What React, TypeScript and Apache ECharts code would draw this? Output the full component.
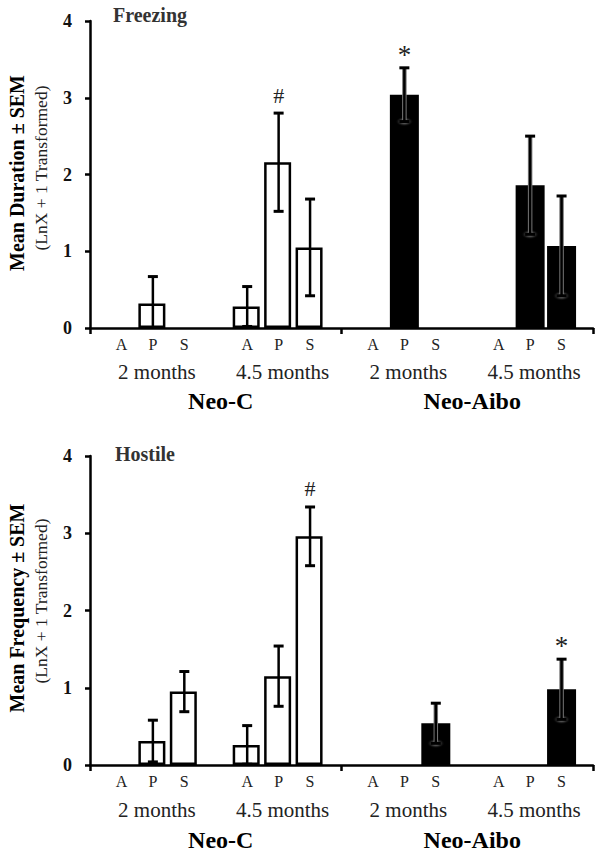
import React, { useEffect, useRef } from "react";
import * as echarts from "echarts";

// ---- data ----
const slotLabels = ["", "A", "P", "S", "", "A", "P", "S", "", "A", "P", "S", "", "A", "P", "S", ""];
const barX = [1, 2, 3, 5, 6, 7, 9, 10, 11, 13, 14, 15];
const groupOf = ["C", "C", "C", "C", "C", "C", "Aibo", "Aibo", "Aibo", "Aibo", "Aibo", "Aibo"];
const ageTicks = [2, 6, 10, 14];
const ageNames = ["2 months", "4.5 months", "2 months", "4.5 months"];
const groupTicks = [4, 12];
const groupNames = ["Neo-C", "Neo-Aibo"];

const freezingMean = [0, 0.32, 0, 0.28, 2.16, 1.05, 0, 3.04, 0, 0, 1.86, 1.07];
const freezingSEM = [0, 0.35, 0, 0.26, 0.64, 0.63, 0, 0.35, 0, 0, 0.64, 0.65];
const freezingMarks = ["", "", "", "", "#", "", "", "*", "", "", "", ""];

const hostileMean = [0, 0.31, 0.95, 0.26, 1.15, 2.96, 0, 0, 0.54, 0, 0, 0.98];
const hostileSEM = [0, 0.27, 0.26, 0.25, 0.39, 0.38, 0, 0, 0.26, 0, 0, 0.39];
const hostileMarks = ["", "", "", "", "", "#", "", "", "", "", "", "*"];

const yTicks = [0, 1, 2, 3, 4];

const SERIF = "Liberation Serif";

function buildPanel(
  idx: number,
  means: number[],
  sems: number[],
  marks: string[]
) {
  const xBase = idx * 4;
  const xAxes: any[] = [
    {
      gridIndex: idx,
      type: "value",
      min: 0,
      max: 16,
      interval: 1,
      position: "bottom",
      axisLine: { show: true, onZero: false, lineStyle: { color: "#000", width: 2.5 } },
      axisTick: { show: false },
      splitLine: { show: false },
      axisLabel: {
        margin: 8,
        fontFamily: SERIF,
        fontSize: 16,
        color: "#222",
        formatter: (v: number) => slotLabels[Math.round(v)] || "",
      },
    },
    {
      gridIndex: idx,
      type: "value",
      min: 0,
      max: 16,
      interval: 8,
      position: "bottom",
      axisLine: { show: false },
      axisTick: { show: true, length: 6, lineStyle: { color: "#000", width: 2.5 } },
      splitLine: { show: false },
      axisLabel: { show: false },
    },
    {
      gridIndex: idx,
      type: "value",
      min: 0,
      max: 16,
      interval: 2,
      position: "bottom",
      axisLine: { show: false },
      axisTick: { show: false },
      splitLine: { show: false },
      axisLabel: {
        margin: idx === 0 ? 33 : 34,
        fontFamily: SERIF,
        fontSize: 21,
        color: "#222",
        padding: [0, 0, 0, 8],
        formatter: (v: number) => {
          const i = ageTicks.indexOf(Math.round(v));
          return i >= 0 ? ageNames[i] : "";
        },
      },
    },
    {
      gridIndex: idx,
      type: "value",
      min: 0,
      max: 16,
      interval: 4,
      position: "bottom",
      axisLine: { show: false },
      axisTick: { show: false },
      splitLine: { show: false },
      axisLabel: {
        margin: idx === 0 ? 61 : 63,
        fontFamily: SERIF,
        fontSize: 24,
        fontWeight: "bold",
        color: "#000",
        padding: [0, 0, 0, 10],
        formatter: (v: number) => {
          const i = groupTicks.indexOf(Math.round(v));
          return i >= 0 ? groupNames[i] : "";
        },
      },
    },
  ];

  const yAxis = {
    gridIndex: idx,
    type: "value",
    min: 0,
    max: 4,
    interval: 1,
    axisLine: { show: true, lineStyle: { color: "#000", width: 2.5 } },
    axisTick: { show: true, length: 5, lineStyle: { color: "#000", width: 2.5 } },
    splitLine: { show: false },
    axisLabel: {
      margin: 18,
      fontFamily: SERIF,
      fontSize: 18,
      fontWeight: "bold",
      color: "#111",
      formatter: (v: number) => (yTicks.indexOf(v) >= 0 ? String(v) : ""),
    },
  };

  const whiteData: any[] = [];
  const blackData: any[] = [];
  const errData: any[] = [];
  means.forEach((m, i) => {
    if (m > 0) {
      (groupOf[i] === "C" ? whiteData : blackData).push([barX[i], m]);
    }
    if (sems[i] > 0) {
      errData.push({
        value: [barX[i], Math.max(0, m - sems[i]), m + sems[i], i],
      });
    }
  });

  const series: any[] = [
    {
      type: "bar",
      xAxisIndex: xBase,
      yAxisIndex: idx,
      barWidth: 27,
      barGap: "-100%",
      data: whiteData,
      itemStyle: { color: "#fff", borderColor: "#000", borderWidth: 2.5 },
      silent: true,
    },
    {
      type: "bar",
      xAxisIndex: xBase,
      yAxisIndex: idx,
      barWidth: 29,
      barGap: "-100%",
      data: blackData,
      itemStyle: { color: "#000" },
      silent: true,
    },
    {
      type: "custom",
      xAxisIndex: xBase,
      yAxisIndex: idx,
      z: 5,
      silent: true,
      data: errData,
      renderItem: (params: any, api: any) => {
        const x = api.value(0);
        const lo = api.value(1);
        const hi = api.value(2);
        const i = api.value(3);
        const pHi = api.coord([x, hi]);
        const pLo = api.coord([x, lo]);
        const dark = groupOf[i] !== "C";
        const cap = 5;
        const children: any[] = [];
        if (dark) {
          children.push({
            type: "ellipse",
            shape: { cx: pLo[0], cy: pLo[1], rx: 9, ry: 5 },
            style: {
              fill: new echarts.graphic.RadialGradient(0.5, 0.5, 0.5, [
                { offset: 0, color: "rgba(210,210,210,0.95)" },
                { offset: 0.5, color: "rgba(120,120,120,0.5)" },
                { offset: 1, color: "rgba(0,0,0,0)" },
              ]),
            },
          });
          children.push({
            type: "line",
            shape: { x1: pHi[0], y1: pHi[1], x2: pLo[0], y2: pLo[1] },
            style: { stroke: "#777", lineWidth: 4.5 },
          });
        }
        children.push({
          type: "line",
          shape: { x1: pHi[0], y1: pHi[1], x2: pLo[0], y2: pLo[1] },
          style: { stroke: "#000", lineWidth: 2.5 },
        });
        children.push({
          type: "line",
          shape: { x1: pHi[0] - cap, y1: pHi[1], x2: pHi[0] + cap, y2: pHi[1] },
          style: { stroke: "#000", lineWidth: 3 },
        });
        if (lo > 0) {
          children.push({
            type: "line",
            shape: { x1: pLo[0] - cap, y1: pLo[1], x2: pLo[0] + cap, y2: pLo[1] },
            style: { stroke: "#000", lineWidth: 3 },
          });
        }
        const mk = marks[i];
        if (mk) {
          children.push({
            type: "text",
            style: {
              text: mk,
              x: pHi[0],
              y: pHi[1] - (mk === "*" ? 13 : 18),
              align: "center",
              verticalAlign: "middle",
              fontFamily: SERIF,
              fontSize: mk === "*" ? 27 : 22,
              fill: "#222",
            },
          });
        }
        return { type: "group", children };
      },
    },
  ];

  return { xAxes, yAxis, series };
}

export default function App() {
  const ref = useRef<HTMLDivElement>(null);

  useEffect(() => {
    if (!ref.current) return;
    const chart = echarts.init(ref.current, undefined, { renderer: "svg" });
    const top = buildPanel(0, freezingMean, freezingSEM, freezingMarks);
    const bot = buildPanel(1, hostileMean, hostileSEM, hostileMarks);

    const yName = (bold: string, plain: string, cyB: number, cyP: number) => [
      {
        type: "text",
        x: 17,
        y: cyB,
        rotation: Math.PI / 2,
        style: {
          text: bold,
          fontFamily: SERIF,
          fontSize: 20,
          fontWeight: "bold",
          fill: "#000",
          align: "center",
          verticalAlign: "middle",
        },
      },
      {
        type: "text",
        x: 41,
        y: cyP,
        rotation: Math.PI / 2,
        style: {
          text: plain,
          fontFamily: SERIF,
          fontSize: 17.5,
          fill: "#222",
          align: "center",
          verticalAlign: "middle",
        },
      },
    ];

    chart.setOption({
      animation: false,
      backgroundColor: "#fff",
      grid: [
        { left: 90, width: 503, top: 21, height: 307 },
        { left: 90, width: 503, top: 456, height: 309 },
      ],
      xAxis: [...top.xAxes, ...bot.xAxes],
      yAxis: [top.yAxis, bot.yAxis],
      series: [...top.series, ...bot.series],
      graphic: [
        {
          type: "text",
          left: 113,
          top: 5,
          style: { text: "Freezing", fontFamily: SERIF, fontSize: 20, fontWeight: "bold", fill: "#333" },
        },
        {
          type: "text",
          left: 115,
          top: 444,
          style: { text: "Hostile", fontFamily: SERIF, fontSize: 20, fontWeight: "bold", fill: "#333" },
        },
        ...yName("Mean Duration \u00b1 SEM", "(LnX + 1 Transformed)", 173, 168),
        ...yName("Mean Frequency \u00b1 SEM", "(LnX + 1 Transformed)", 608, 601),
      ],
    });
    return () => chart.dispose();
  }, []);

  return (
    <div
      ref={ref}
      style={{ position: "absolute", left: 0, top: 0, width: 605, height: 858 }}
    />
  );
}
